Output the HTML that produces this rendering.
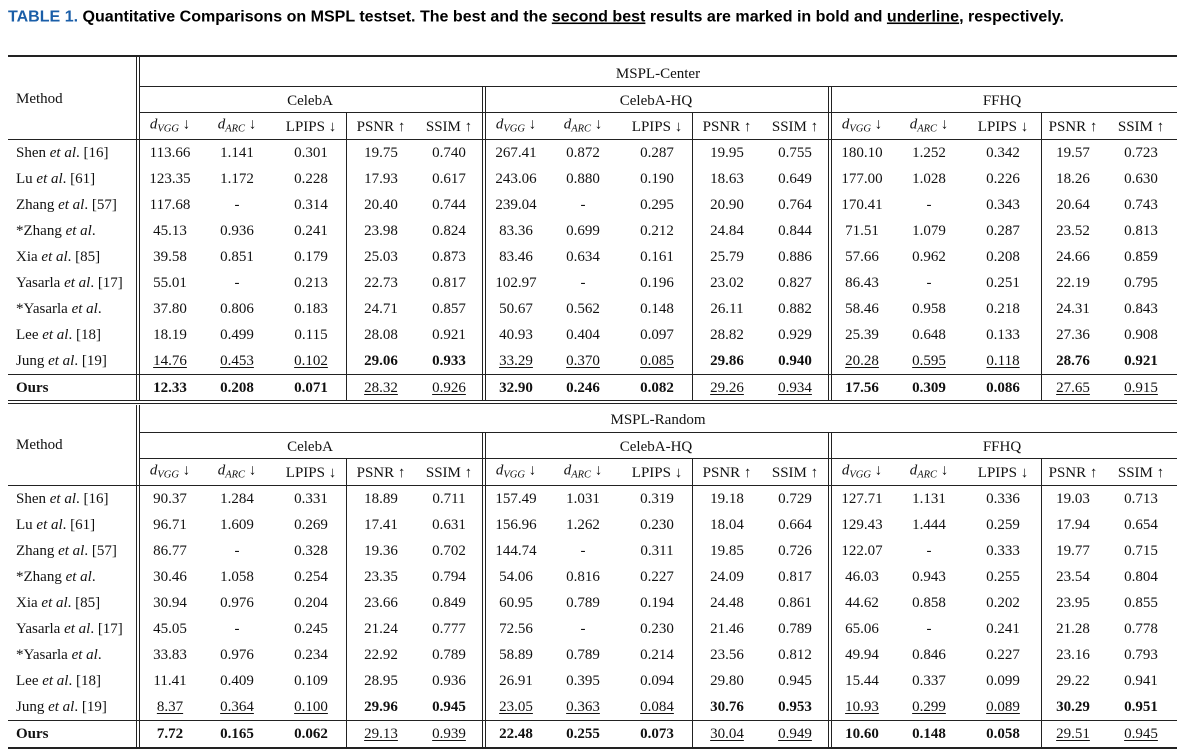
<!DOCTYPE html>
<html><head><meta charset="utf-8">
<style>
body{margin:0;background:#fff;width:1186px;height:751px;overflow:hidden;position:relative;font-family:"Liberation Serif",serif;color:#111}
.t{position:absolute;font-size:15px;line-height:18px;white-space:nowrap;transform:translate(-50%,-50%)}
.l{position:absolute;font-size:15px;line-height:18px;white-space:nowrap;transform:translateY(-50%)}
.h{position:absolute;background:#222;height:1px}
.v{position:absolute;background:#222;width:1px}
.b{font-weight:bold}
.u{text-decoration:underline;text-decoration-thickness:1px;text-underline-offset:2px}
sub{font-size:10.5px;vertical-align:-3px}
</style></head><body>
<svg width="1186" height="34" style="position:absolute;left:0;top:0">
<text x="8" y="21.5" textLength="1056" lengthAdjust="spacingAndGlyphs" font-family="Liberation Sans, sans-serif" font-weight="bold" font-size="15.5" fill="#000"><tspan fill="#1a5ea8">TABLE 1.</tspan> Quantitative Comparisons on MSPL testset. The best and the <tspan text-decoration="underline">second best</tspan> results are marked in bold and <tspan text-decoration="underline">underline</tspan>, respectively.</text>
</svg>
<div id="tbl"></div>
<script>
const methods=['Shen <i>et al</i>. [16]','Lu <i>et al</i>. [61]','Zhang <i>et al</i>. [57]','*Zhang <i>et al</i>.','Xia <i>et al</i>. [85]','Yasarla <i>et al</i>. [17]','*Yasarla <i>et al</i>.','Lee <i>et al</i>. [18]','Jung <i>et al</i>. [19]','<b>Ours</b>'];
const datasets=['CelebA','CelebA-HQ','FFHQ'];
const sections=['MSPL-Center','MSPL-Random'];
const metrics=['<i>d</i><sub><i>VGG</i></sub> ↓','<i>d</i><sub><i>ARC</i></sub> ↓','LPIPS ↓','PSNR ↑','SSIM ↑'];
const centerVals=[
'113.66 1.141 0.301 19.75 0.740 267.41 0.872 0.287 19.95 0.755 180.10 1.252 0.342 19.57 0.723',
'123.35 1.172 0.228 17.93 0.617 243.06 0.880 0.190 18.63 0.649 177.00 1.028 0.226 18.26 0.630',
'117.68 - 0.314 20.40 0.744 239.04 - 0.295 20.90 0.764 170.41 - 0.343 20.64 0.743',
'45.13 0.936 0.241 23.98 0.824 83.36 0.699 0.212 24.84 0.844 71.51 1.079 0.287 23.52 0.813',
'39.58 0.851 0.179 25.03 0.873 83.46 0.634 0.161 25.79 0.886 57.66 0.962 0.208 24.66 0.859',
'55.01 - 0.213 22.73 0.817 102.97 - 0.196 23.02 0.827 86.43 - 0.251 22.19 0.795',
'37.80 0.806 0.183 24.71 0.857 50.67 0.562 0.148 26.11 0.882 58.46 0.958 0.218 24.31 0.843',
'18.19 0.499 0.115 28.08 0.921 40.93 0.404 0.097 28.82 0.929 25.39 0.648 0.133 27.36 0.908',
'u14.76 u0.453 u0.102 b29.06 b0.933 u33.29 u0.370 u0.085 b29.86 b0.940 u20.28 u0.595 u0.118 b28.76 b0.921',
'b12.33 b0.208 b0.071 u28.32 u0.926 b32.90 b0.246 b0.082 u29.26 u0.934 b17.56 b0.309 b0.086 u27.65 u0.915'];
const randomVals=[
'90.37 1.284 0.331 18.89 0.711 157.49 1.031 0.319 19.18 0.729 127.71 1.131 0.336 19.03 0.713',
'96.71 1.609 0.269 17.41 0.631 156.96 1.262 0.230 18.04 0.664 129.43 1.444 0.259 17.94 0.654',
'86.77 - 0.328 19.36 0.702 144.74 - 0.311 19.85 0.726 122.07 - 0.333 19.77 0.715',
'30.46 1.058 0.254 23.35 0.794 54.06 0.816 0.227 24.09 0.817 46.03 0.943 0.255 23.54 0.804',
'30.94 0.976 0.204 23.66 0.849 60.95 0.789 0.194 24.48 0.861 44.62 0.858 0.202 23.95 0.855',
'45.05 - 0.245 21.24 0.777 72.56 - 0.230 21.46 0.789 65.06 - 0.241 21.28 0.778',
'33.83 0.976 0.234 22.92 0.789 58.89 0.789 0.214 23.56 0.812 49.94 0.846 0.227 23.16 0.793',
'11.41 0.409 0.109 28.95 0.936 26.91 0.395 0.094 29.80 0.945 15.44 0.337 0.099 29.22 0.941',
'u8.37 u0.364 u0.100 b29.96 b0.945 u23.05 u0.363 u0.084 b30.76 b0.953 u10.93 u0.299 u0.089 b30.29 b0.951',
'b7.72 b0.165 b0.062 u29.13 u0.939 b22.48 b0.255 b0.073 u30.04 u0.949 b10.60 b0.148 b0.058 u29.51 u0.945'];
const allVals=[centerVals,randomVals];
const root=document.getElementById('tbl');
const colX=[170,237,311,381,449];
const groupW=346;
const dy=1;
function txt(cls,x,y,html){const d=document.createElement('div');d.className=cls;d.style.left=x+'px';d.style.top=(y+dy)+'px';d.innerHTML=html;root.appendChild(d);return d;}
function hl(x1,x2,y,th){const d=document.createElement('div');d.className='h';d.style.left=x1+'px';d.style.width=(x2-x1)+'px';d.style.top=y+'px';if(th)d.style.height=th+'px';


root.appendChild(d);}
function vl(x,y1,y2){const d=document.createElement('div');d.className='v';d.style.left=x+'px';d.style.top=y1+'px';d.style.height=(y2-y1)+'px';


root.appendChild(d);}
const L=8,R=1177;
sections.forEach((sec,s)=>{
  const o=s*345.5;
  if(s===0)hl(L,R,55,1.5);
  hl(140,R,86+o);hl(140,R,112+o);hl(L,R,139+o);hl(L,R,374+o);
  const top=s===0?56:405, bot=s===0?400:748;
  vl(136,top,bot);vl(139,top,bot);
  [482,828].forEach(x=>{vl(x,86+o,bot);vl(x+3,86+o,bot);});
  [346,692,1041].forEach(x=>vl(x,112+o,bot));
  let e=txt('t',658,73+o,sec);
  
  
  e=txt('l',16,98+o,'Method');
  
  
  datasets.forEach((ds,g)=>{
    e=txt('t',310+g*groupW,100+o,ds);
    
    
    metrics.forEach((m,c)=>{
      e=txt('t',colX[c]+g*groupW,126+o,m);
      
      
    });
  });
  methods.forEach((m,r)=>{
    const y=(r<9?152+26*r:387)+o;
    e=txt('l',16,y,m);
    
    
    allVals[s][r].split(' ').forEach((v,k)=>{
      let cls='t';
      if(v[0]==='b'){cls+=' b';v=v.slice(1);}else if(v[0]==='u'){cls+=' u';v=v.slice(1);}
      const g=Math.floor(k/5),c=k%5;
      e=txt(cls,colX[c]+g*groupW,y,v);
      
      
    });
  });
});
hl(L,R,400);hl(L,R,403);
hl(L,R,747,1.5);
</script>
</body></html>
